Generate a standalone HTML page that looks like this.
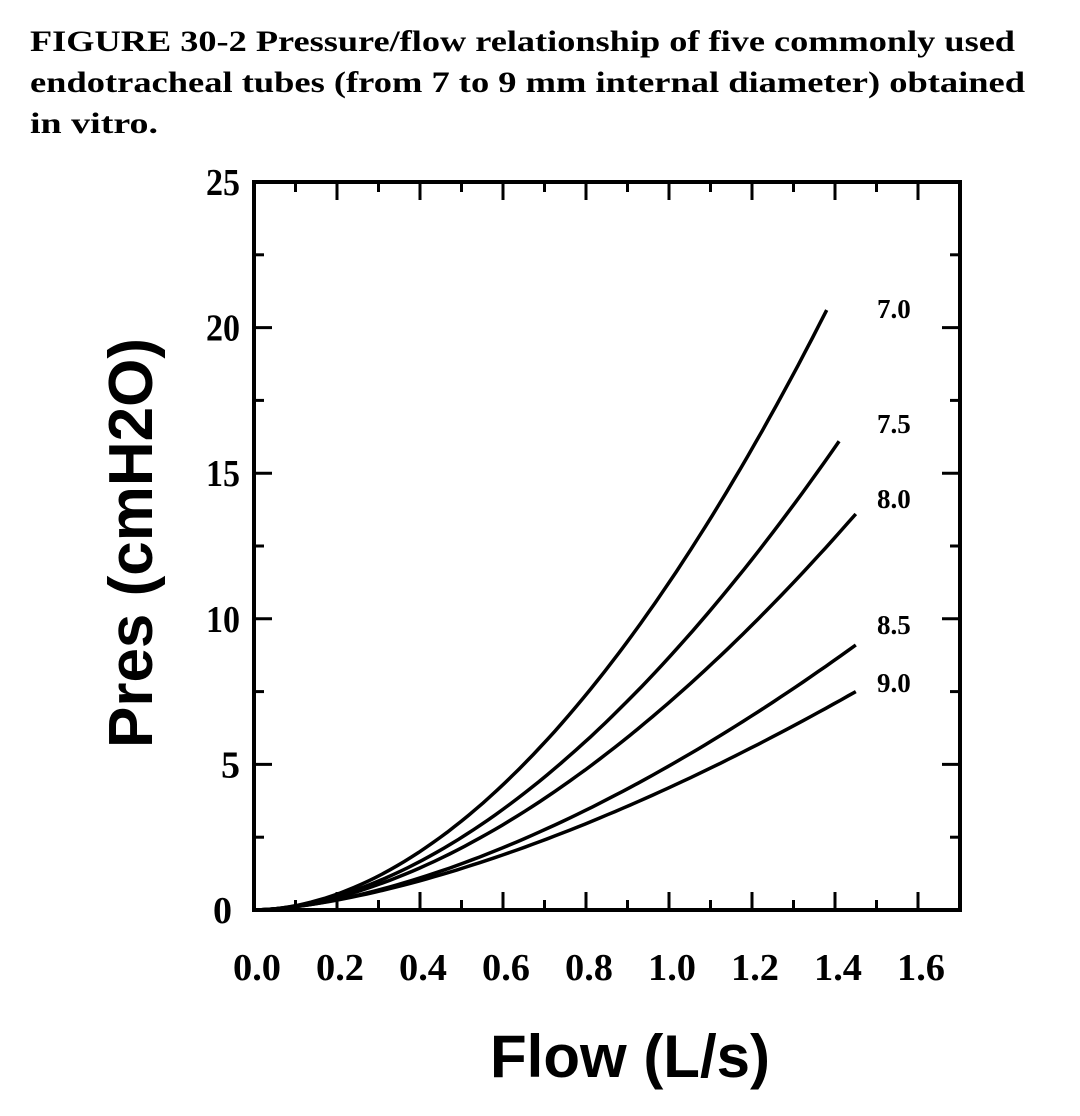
<!DOCTYPE html>
<html><head><meta charset="utf-8"><style>html,body{margin:0;padding:0;background:#fff}</style></head>
<body>
<svg width="1080" height="1111" viewBox="0 0 1080 1111" xmlns="http://www.w3.org/2000/svg">
<g font-family="Liberation Serif, serif" font-weight="bold" font-size="30" fill="#000">
<text x="30" y="51" textLength="985" lengthAdjust="spacingAndGlyphs">FIGURE 30-2 Pressure/flow relationship of five commonly used</text>
<text x="30" y="92" textLength="995" lengthAdjust="spacingAndGlyphs">endotracheal tubes (from 7 to 9 mm internal diameter) obtained</text>
<text x="30" y="133" textLength="128" lengthAdjust="spacingAndGlyphs">in vitro.</text>
</g>
<g stroke="#000" stroke-width="4" fill="none">
<rect x="254" y="182" width="706" height="728"/>
</g>
<g id="ticks" stroke="#000" stroke-width="3"></g>
<g font-family="Liberation Serif, serif" font-weight="bold" font-size="38" fill="#000" text-anchor="middle" id="xl"></g>
<g font-family="Liberation Serif, serif" font-weight="bold" font-size="38" fill="#000" text-anchor="end" id="yl"></g>
<g id="curves" stroke="#000" stroke-width="3.5" fill="none"></g>
<g font-family="Liberation Serif, serif" font-weight="bold" font-size="27" fill="#000">
<text x="877" y="318">7.0</text>
<text x="877" y="433">7.5</text>
<text x="877" y="508">8.0</text>
<text x="877" y="634">8.5</text>
<text x="877" y="692">9.0</text>
</g>
<text x="630" y="1077" font-family="Liberation Sans, sans-serif" font-weight="bold" font-size="60" text-anchor="middle">Flow (L/s)</text>
<text transform="translate(152,543) rotate(-90)" font-family="Liberation Sans, sans-serif" font-weight="bold" font-size="62" text-anchor="middle">Pres (cmH2O)</text>
<script>
var ns="http://www.w3.org/2000/svg";
function X(q){return 254+q*415}
function Y(p){return 910-p*29.12}
function el(p,t,a){var e=document.createElementNS(ns,t);for(var k in a)e.setAttribute(k,a[k]);if(a.txt){e.textContent=a.txt;e.removeAttribute('txt')}p.appendChild(e);return e}
var tk=document.getElementById('ticks');
for(var i=1;i<=16;i++){var x=X(i/10),L=(i%2==0)?18:10;
el(tk,'line',{x1:x,y1:910,x2:x,y2:910-L});el(tk,'line',{x1:x,y1:182,x2:x,y2:182+L});}
for(var j=1;j<10;j++){var y=Y(j*2.5),L=(j%2==0)?18:10;
el(tk,'line',{x1:254,y1:y,x2:254+L,y2:y});el(tk,'line',{x1:960,y1:y,x2:960-L,y2:y});}
var xl=document.getElementById('xl');
for(var i=0;i<=8;i++){el(xl,'text',{x:X(i*0.2)+3,y:980,txt:(i*0.2).toFixed(1),textLength:48,lengthAdjust:'spacingAndGlyphs'});}
var yl=document.getElementById('yl');
for(var i=0;i<=5;i++){var a={x:i==0?232:240,y:Y(i*5)+13,txt:String(i*5)};if(i>=2){a.textLength=34;a.lengthAdjust='spacingAndGlyphs';}el(yl,'text',a);}
var cv=document.getElementById('curves');
var C=[[20.6,1.38,1.88],[16.1,1.41,1.8],[13.6,1.45,1.74],[9.1,1.45,1.64],[7.5,1.45,1.56]];
C.forEach(function(c){var k0=c[0]/Math.pow(c[1],c[2]);var d='';for(var k=0;k<=80;k++){var q=c[1]*k/80,p=k0*Math.pow(q,c[2]);d+=(k?'L':'M')+X(q).toFixed(1)+' '+Y(p).toFixed(1)}el(cv,'path',{d:d});});
</script>
</svg>
</body></html>
